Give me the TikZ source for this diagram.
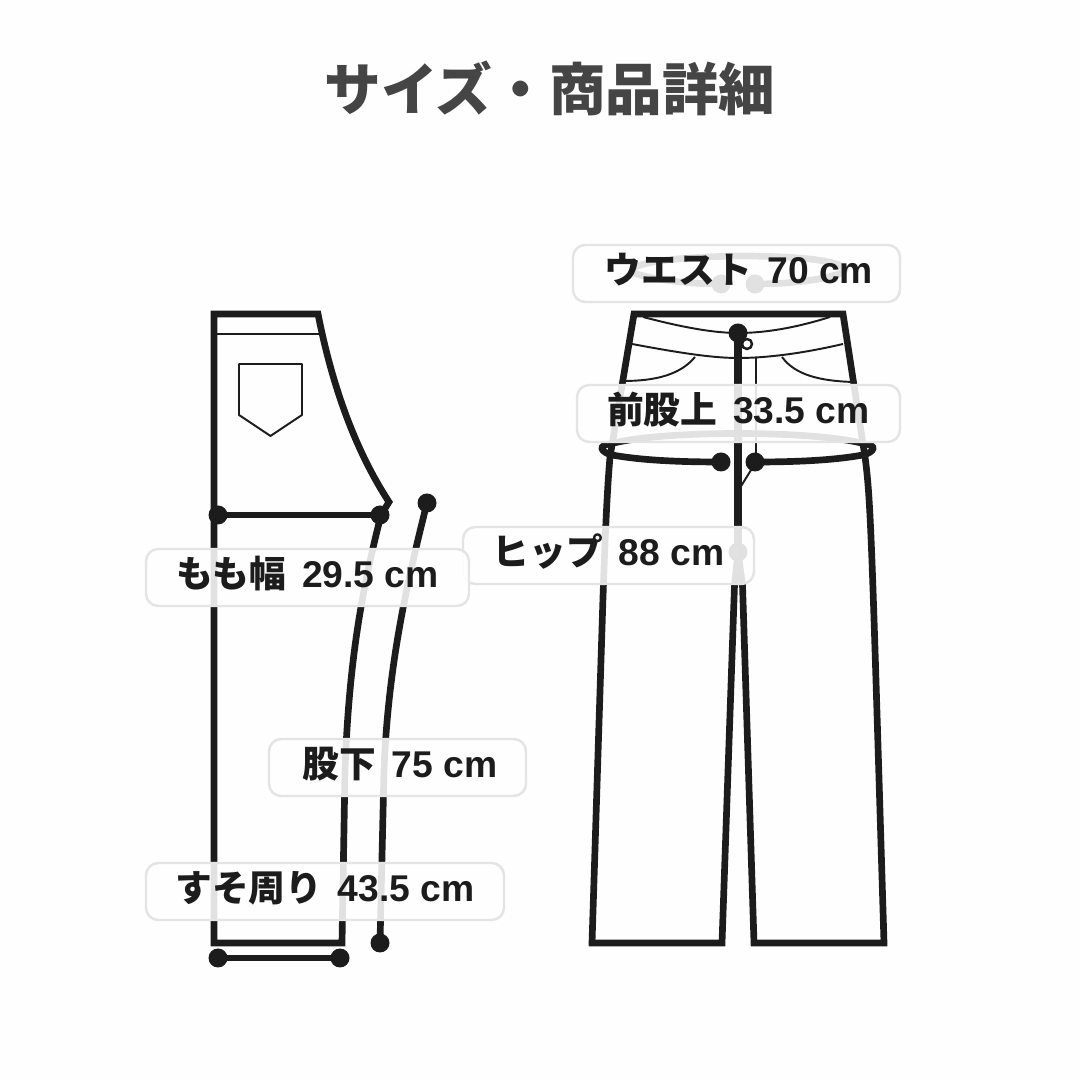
\documentclass[tikz,border=0pt]{standalone}
\usepackage{fontspec}
\setmainfont{Liberation Sans}
\newfontfamily\jpfont{Noto Sans CJK JP}
\usepackage{tkz-euclide}
\usetikzlibrary{calc}
\definecolor{ink}{HTML}{1C1C1C}
\definecolor{boxline}{HTML}{E4E4E4}
\definecolor{paper}{HTML}{FEFEFE}
\newcommand{\sizetext}[2]{{\jpfont\fontsize{10.45pt}{12pt}\selectfont #1}\hspace{1.5pt} #2}
\tikzset{
    heavyline/.style={draw=ink,line width=1.9pt,line join=miter},
    thinline/.style={draw=ink,line width=0.55pt},
    sizelabel/.style={draw=boxline,line width=0.7pt,fill=white,fill opacity=0.87,text opacity=1,text=ink,
        rounded corners=3.5pt,minimum height=0.57cm,inner sep=0pt,text height=8.9pt,text depth=3.2pt,
        font=\fontsize{10.6pt}{12pt}\bfseries},
}
\begin{document}
\begin{tikzpicture}
                \useasboundingbox[fill=paper] (0,0) rectangle (10.8,10.8);

                \tkzDefPoint(2.14,7.66){SA}
                \tkzDefPoint(3.18,7.66){SB}
                \tkzDefPoint(3.89,5.78){SC}
                \tkzDefPoint(3.81,5.65){SD}
                \tkzDefPoint(3.42,1.37){SE}
                \tkzDefPoint(2.14,1.37){SF}
                \tkzDefPoint(4.27,5.77){SI}
                \tkzDefPoint(3.80,1.37){SJ}

                \draw[heavyline] (SD) .. controls (3.62,4.90) and (3.49,4.20) .. (3.45,3.10) -- (SE) -- (SF) -- (SA) -- (SB) .. controls (3.32,6.95) and (3.55,6.30) .. (SC) -- cycle;
                \draw[heavyline,line cap=butt] (SI) .. controls (4.05,4.90) and (3.88,4.10) .. (3.84,3.10) -- (SJ);

                \tkzDefPoint(2.14,7.46){W1}
                \tkzDefPoint(3.21,7.46){W2}
                \tkzDrawSegment[thinline](W1,W2)

                \tkzDefPoint(2.39,7.16){P1}
                \tkzDefPoint(3.02,7.16){P2}
                \tkzDefPoint(3.02,6.65){P3}
                \tkzDefPoint(2.705,6.44){P4}
                \tkzDefPoint(2.39,6.65){P5}
                \tkzDrawPolygon[thinline](P1,P2,P3,P4,P5)

                \tkzDefPoint(2.18,5.65){T1}
                \tkzDefPoint(3.80,5.65){T2}
                \tkzDrawSegment[heavyline](T1,T2)

                \tkzDefPoint(2.18,1.22){H1}
                \tkzDefPoint(3.40,1.22){H2}
                \tkzDrawSegment[heavyline](H1,H2)

                \tkzDefPoint(6.34,7.66){A1}
                \tkzDefPoint(8.43,7.66){A2}
                \tkzDefPoint(8.65,6.23){A3}
                \tkzDefPoint(8.84,1.37){A4}
                \tkzDefPoint(7.54,1.37){A5}
                \tkzDefPoint(7.425,4.95){A6}
                \tkzDefPoint(7.345,4.95){A7}
                \tkzDefPoint(7.22,1.37){A8}
                \tkzDefPoint(5.92,1.37){A9}
                \tkzDefPoint(6.10,6.23){A10}

                \tkzDefPoint(7.38,7.47){B1}
                \tkzDefPoint(7.38,5.28){B2}

                \draw[heavyline] (A1) -- (A2) -- (A3) .. controls (8.71,5.80) and (8.72,5.30) .. (A4) -- (A5) -- (A6) -- (B2) -- (A7) -- (A8) -- (A9) -- (6.03,4.83) .. controls (6.05,5.40) and (6.07,5.90) .. (A10) -- cycle;
                \tkzDrawSegment[heavyline,line width=2pt](B1,B2)

                \draw[thinline] (6.43,7.63) .. controls (6.85,7.52) and (7.15,7.47) .. (B1) .. controls (7.65,7.47) and (7.95,7.52) .. (8.30,7.63);
                \draw[thinline] (6.32,7.36) .. controls (6.85,7.26) and (7.15,7.22) .. (7.38,7.22) .. controls (7.65,7.22) and (8.00,7.26) .. (8.43,7.36);
                \draw[thinline] (6.95,7.23) .. controls (6.80,7.05) and (6.55,6.99) .. (6.23,6.99);
                \draw[thinline] (7.82,7.23) .. controls (7.95,7.05) and (8.20,6.99) .. (8.53,6.98);

                \tkzDefPoint(7.56,7.22){F1}
                \tkzDefPoint(7.56,6.18){F2}
                \tkzDefPoint(7.38,5.89){F3}
                \tkzDrawSegment[thinline](F1,F2)
                \tkzDrawSegment[thinline](F2,F3)

                \tkzDefPoint(7.47,7.36){BT}
                \draw[thinline,line width=0.7pt,fill=white] (BT) circle (0.05);

                \tkzDefPoint(7.21,6.18){HL}
                \tkzDefPoint(7.55,6.18){HR}
                \draw[heavyline] (HL) .. controls (6.75,6.18) and (6.40,6.20) .. (6.12,6.25) .. controls (6.00,6.28) and (5.98,6.35) .. (6.10,6.36) .. controls (6.60,6.50) and (8.15,6.50) .. (8.65,6.36) .. controls (8.77,6.35) and (8.75,6.28) .. (8.63,6.25) .. controls (8.35,6.20) and (8.00,6.18) .. (HR);

                \tkzDefPoint(7.21,7.96){UL}
                \tkzDefPoint(7.55,7.96){UR}
                \draw[heavyline] (UL) .. controls (6.90,7.96) and (6.55,8.00) .. (6.33,8.07) .. controls (6.28,8.12) and (6.40,8.22) .. (7.38,8.24) .. controls (8.30,8.24) and (8.50,8.14) .. (8.44,8.08) .. controls (8.25,8.00) and (7.90,7.96) .. (UR);

                \fill[ink] (T1) circle (0.095);
                \fill[ink] (T2) circle (0.095);
                \fill[ink] (SI) circle (0.095);
                \fill[ink] (SJ) circle (0.095);
                \fill[ink] (H1) circle (0.095);
                \fill[ink] (H2) circle (0.095);
                \fill[ink] (B1) circle (0.095);
                \fill[ink] (B2) circle (0.095);
                \fill[ink] (HL) circle (0.095);
                \fill[ink] (HR) circle (0.095);
                \fill[ink] (UL) circle (0.095);
                \fill[ink] (UR) circle (0.095);

                \node[text=black!73,font=\fontsize{16.1pt}{18pt}\bfseries\jpfont] (title) at (5.50,9.92) {サイズ・商品詳細};

                \node[sizelabel,minimum width=3.27cm] (waist) at (7.365,8.065) {\hspace{1.4pt}\sizetext{ウエスト}{70 cm}};
                \node[sizelabel,minimum width=3.23cm] (rise) at (7.385,6.665) {\sizetext{前股上}{33.5 cm}};
                \node[sizelabel,minimum width=2.91cm] (hip) at (6.085,5.245) {\sizetext{ヒップ}{88 cm}};
                \node[sizelabel,minimum width=3.23cm] (thigh) at (3.075,5.025) {\sizetext{もも幅}{29.5 cm}};
                \node[sizelabel,minimum width=2.57cm] (inseam) at (3.975,3.125) {\hspace{1.4pt}\sizetext{股下}{75 cm}};
                \node[sizelabel,minimum width=3.58cm] (hem) at (3.25,1.885) {\sizetext{すそ周り}{43.5 cm}};
\end{tikzpicture}
\end{document}
